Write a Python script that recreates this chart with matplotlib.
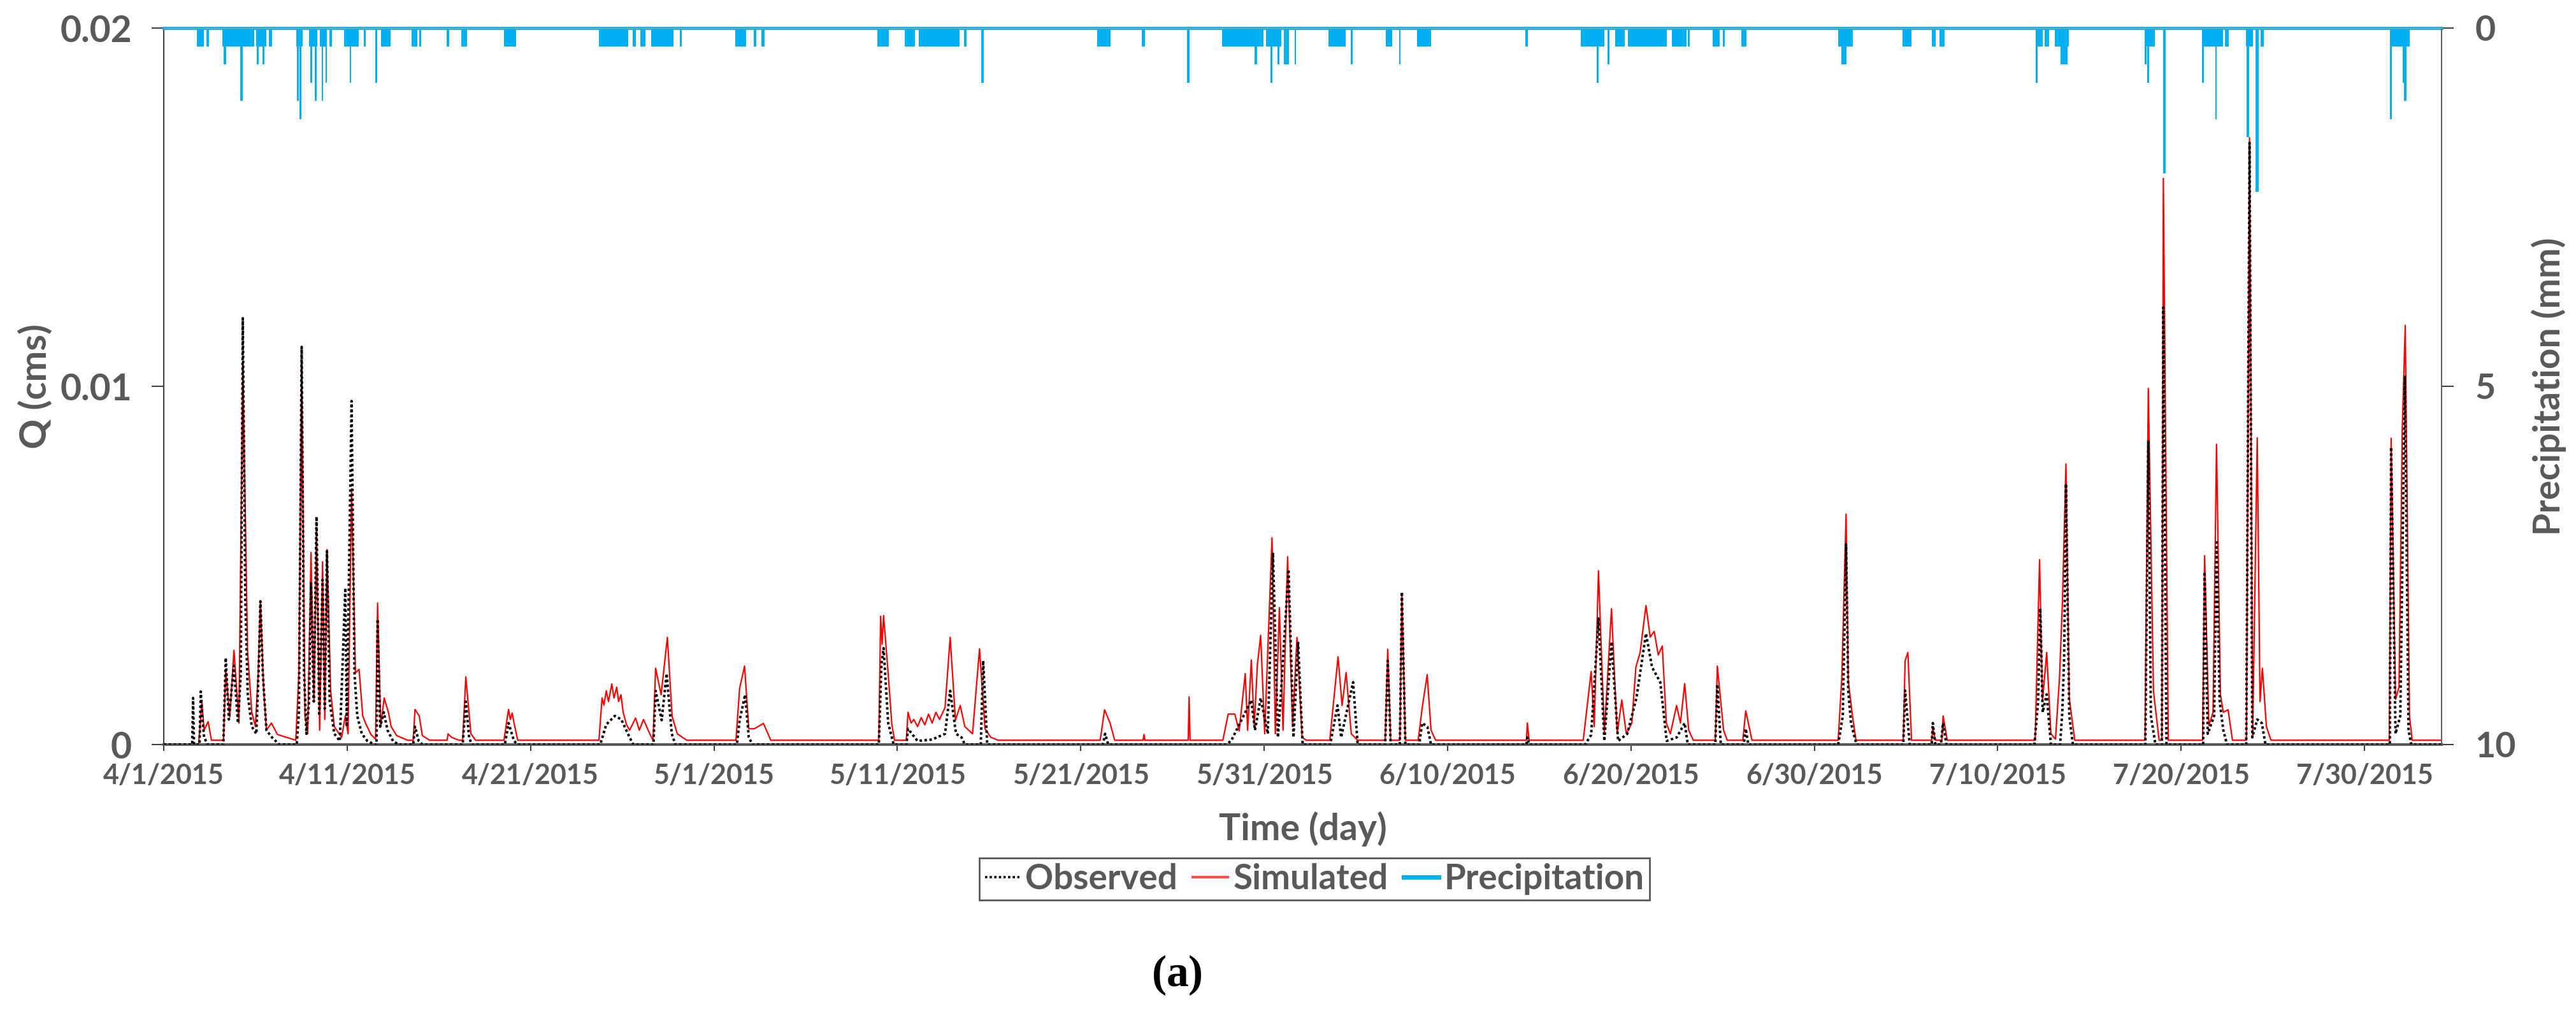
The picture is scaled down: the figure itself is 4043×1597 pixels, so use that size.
import numpy as np
import pandas as pd
import matplotlib
matplotlib.use("Agg")
import matplotlib.pyplot as plt
from matplotlib.lines import Line2D

# Dates of the x ticks (every 10 days)
tick_labels = ['4/1/2015', '4/11/2015', '4/21/2015', '5/1/2015', '5/11/2015', '5/21/2015',
               '5/31/2015', '6/10/2015', '6/20/2015', '6/30/2015', '7/10/2015', '7/20/2015',
               '7/30/2015']
start = pd.Timestamp('2015-04-01')
end_day = 124.2   # last record, days after 4/1/2015 00:00

# Observed flow (cms), time in days after 4/1/2015
obs_day = [0, 1.55, 1.6, 1.65, 1.95, 2.02, 2.1, 2.2, 2.4,
           3.25, 3.38, 3.55, 3.82, 4.05, 4.2, 4.31, 4.45, 4.58, 4.8, 5.05, 5.2, 5.27, 5.4, 5.6, 5.9, 6.3,
           7.25, 7.37, 7.52, 7.65, 7.78, 7.92, 8.03, 8.18, 8.33, 8.48, 8.66, 8.78, 8.9, 9.05, 9.3, 9.6,
           9.9, 9.98, 10.24, 10.4, 10.55, 10.8, 11.1, 11.5, 11.6, 11.66, 11.8, 12.0, 12.2, 12.5, 12.8,
           13.6, 13.7, 13.9, 14.1, 16.3, 16.47, 16.65, 16.8, 18.6, 18.8, 19.1, 19.3,
           23.8, 24.13, 24.6, 24.95, 25.4, 25.6, 26.7, 26.82, 27.15, 27.42, 27.7, 27.9,
           31.25, 31.4, 31.7, 31.9, 32.1, 38.99, 39.13, 39.25, 39.5, 39.8,
           40.5, 40.58, 41.1, 41.9, 42.6, 42.88, 43.2, 43.5, 43.68, 44.55, 44.68, 44.9,
           51.2, 51.33, 51.5,
           57.9, 58.2, 58.97, 59.3, 59.5, 59.81, 60.2, 60.48, 60.75, 60.9, 61.33, 61.6, 61.85, 62.1,
           63.6, 64.0, 64.2, 64.85, 65.1, 66.6, 66.74, 66.9, 67.4, 67.51, 67.7, 68.45, 68.62, 68.9, 69.1,
           74.3, 74.35, 74.45,
           77.5, 77.83, 78.23, 78.55, 78.94, 79.3, 79.8, 80.3, 80.82, 81.15, 81.6, 81.95, 82.5, 82.93, 83.1,
           84.6, 84.71, 84.9, 86.15, 86.26, 86.4,
           91.3, 91.55, 91.73, 91.85, 92.0, 92.3, 94.85, 94.95, 95.2, 96.4, 96.46, 96.6, 96.9, 97.02, 97.2,
           102.0, 102.2, 102.32, 102.45, 102.67, 102.9, 103.4, 103.52, 103.62, 103.72, 103.9, 104.1,
           108.05, 108.21, 108.35, 108.6, 108.95, 109.03, 109.2,
           111.2, 111.28, 111.45, 111.8, 111.93, 112.1, 112.3, 112.5,
           113.55, 113.73, 113.88, 114.15, 114.4, 114.6,
           121.38, 121.45, 121.69, 121.95, 122.2, 122.4, 122.55, 124.2]
obs_q = [0, 0, 0.0013, 0, 0, 0.00148, 0.0008, 0.0002, 0,
         0, 0.00242, 0.0007, 0.0022, 0.0006, 0.002, 0.0119, 0.004, 0.0014, 0.0005, 0.0003, 0.0025, 0.0040, 0.002, 0.0004, 0.0002, 0,
         0, 0.0009, 0.0111, 0.002, 0.0003, 0.0012, 0.0045, 0.0012, 0.00636, 0.0008, 0.0046, 0.001, 0.0054, 0.0012, 0.0003, 0.0001,
         0.00437, 0.0005, 0.00959, 0.002, 0.0008, 0.0003, 0.0001, 0, 0, 0.0035, 0.0005, 0.0009, 0.0004, 0.0001, 0,
         0, 0.0005, 0.0001, 0, 0, 0.0012, 0.0002, 0, 0, 0.0006, 0.0001, 0,
         0, 0.00056, 0.0008, 0.0007, 0.0002, 0, 0, 0.0015, 0.00068, 0.00198, 0.0003, 0,
         0, 0.00068, 0.00139, 0.0002, 0, 0, 0.00222, 0.00269, 0.0006, 0,
         0, 0.00044, 0.0001, 0.00014, 0.0003, 0.0015, 0.0003, 0.0002, 0, 0, 0.00234, 0,
         0, 0.0003, 0,
         0, 0.0001, 0.0009, 0.00124, 0.0004, 0.0013, 0.0003, 0.00536, 0.0002, 0.0013, 0.00489, 0.0002, 0.00287, 0,
         0, 0.00109, 0.0002, 0.00174, 0, 0, 0.00234, 0, 0, 0.00426, 0, 0, 0.0006, 0.0005, 0,
         0, 0.0002, 0,
         0, 0.00027, 0.00352, 0.0001, 0.00287, 0.0001, 0.0003, 0.0013, 0.0031, 0.00216, 0.00174, 0.0001, 0.0002, 0.0006, 0,
         0, 0.00168, 0, 0, 0.00044, 0,
         0, 0.0008, 0.00559, 0.0015, 0.0006, 0, 0, 0.00151, 0, 0, 0.0006, 0, 0, 0.0006, 0,
         0, 0.0012, 0.0038, 0.0009, 0.0014, 0, 0, 0.0009, 0.0024, 0.00728, 0.0008, 0,
         0, 0.00849, 0.0008, 0, 0, 0.0122, 0,
         0, 0.00482, 0.0003, 0.0008, 0.00571, 0.0012, 0.0004, 0,
         0, 0.0168, 0.0002, 0.0007, 0.0006, 0,
         0, 0.0083, 0.0003, 0.0008, 0.0103, 0.0004, 0, 0]

# Simulated flow (cms)
sim_day = [0, 1.9, 2.08, 2.2, 2.42, 2.6,
           3.26, 3.38, 3.6, 3.83, 4.1, 4.31, 4.57, 4.8, 5.0, 5.15, 5.27, 5.45, 5.6, 5.87, 6.2,
           7.2, 7.37, 7.52, 7.7, 7.85, 8.03, 8.19, 8.33, 8.5, 8.66, 8.78, 8.9, 9.1, 9.3, 9.7,
           9.9, 10.05, 10.24, 10.45, 10.65, 10.85, 11.0, 11.3, 11.55, 11.66, 11.83, 12.02, 12.25, 12.4, 12.7, 13.3,
           13.6, 13.7, 13.93, 14.1, 14.5, 15.45, 15.5, 15.7, 16.1, 16.3, 16.47, 16.75, 17.0,
           18.55, 18.8, 18.9, 19.0, 19.1, 19.3,
           23.73, 23.9, 24.0, 24.13, 24.25, 24.43, 24.55, 24.7, 24.8, 24.93, 25.05, 25.23, 25.4, 25.73, 25.93, 26.16, 26.5,
           26.68, 26.82, 27.12, 27.46, 27.72, 28.0, 28.52,
           31.2, 31.4, 31.67, 31.9, 32.2, 32.7, 33.1,
           38.99, 39.09, 39.17, 39.25, 39.5, 39.7, 39.85,
           40.49, 40.58, 40.75, 40.9, 41.1, 41.3, 41.5, 41.7, 41.9, 42.1, 42.3, 42.6, 42.88, 43.17, 43.43,
           43.68, 44.1, 44.48, 44.78, 45.1, 45.5,
           51.06, 51.3, 51.6, 51.85, 53.4, 53.45, 53.5, 55.86, 55.91, 55.96,
           57.75, 58.04, 58.4, 58.64, 58.97, 59.1, 59.3, 59.46, 59.63, 59.81, 60.03, 60.43, 60.61,
           60.83, 61.03, 61.28, 61.55, 61.79, 62.07, 62.3,
           63.58, 64.03, 64.25, 64.47, 64.75, 65.1, 66.6, 66.74, 66.9, 67.4, 67.51, 67.7,
           68.4, 68.62, 68.89, 69.1, 69.35, 74.3, 74.35, 74.45,
           77.4, 77.83, 78.0, 78.23, 78.55, 78.94, 79.25, 79.5, 79.75, 80.05, 80.27, 80.5, 80.82, 81.05,
           81.27, 81.49, 81.71, 81.93, 82.15, 82.49, 82.7, 82.93, 83.15, 83.4,
           84.6, 84.71, 85.05, 85.25, 86.1, 86.26, 86.6,
           91.3, 91.5, 91.73, 91.85, 92.08, 92.27, 94.85, 94.95, 95.1, 95.3,
           96.4, 96.46, 96.6, 96.95, 97.02, 97.25,
           102.04, 102.2, 102.28, 102.44, 102.67, 102.9, 103.15, 103.37, 103.53, 103.72, 103.9, 104.2,
           108.03, 108.21, 108.49, 108.8, 108.95, 109.03, 109.3,
           111.17, 111.28, 111.51, 111.74, 111.93, 112.14, 112.3, 112.56, 112.8,
           113.56, 113.73, 113.9, 114.15, 114.3, 114.43, 114.65, 114.9,
           121.35, 121.45, 121.69, 121.88, 122.06, 122.22, 122.45, 122.6, 124.2]
sim_q = [0, 0, 0.00118, 0.0004, 0.00064, 0.00012,
         0.00012, 0.00209, 0.00077, 0.00263, 0.0006, 0.01066, 0.0026, 0.0009, 0.0005, 0.002, 0.0040, 0.0015, 0.0004, 0.0006, 0.00028,
         0.00012, 0.002, 0.0107, 0.0008, 0.0003, 0.00536, 0.0012, 0.0060, 0.0004, 0.0051, 0.0007, 0.00544, 0.0015, 0.0005, 0.0002,
         0.0008, 0.0003, 0.00714, 0.002, 0.0021, 0.0008, 0.0006, 0.00028, 0.00015, 0.00395, 0.0005, 0.0013, 0.0009, 0.0005, 0.00025, 0.00012,
         0.00012, 0.00098, 0.0008, 0.00025, 0.00012, 0.00012, 0.0003, 0.0002, 0.00012, 0.00012, 0.00189, 0.0003, 0.00012,
         0.00012, 0.00098, 0.0007, 0.00088, 0.0006, 0.00012,
         0.00012, 0.0013, 0.0011, 0.0015, 0.0012, 0.00169, 0.0013, 0.0016, 0.0012, 0.00139, 0.0009, 0.00056, 0.0004, 0.00074, 0.0004, 0.0007, 0.0003,
         0.00012, 0.00213, 0.00139, 0.00299, 0.00079, 0.0003, 0.00012,
         0.00012, 0.00157, 0.00219, 0.00044, 0.00044, 0.00059, 0.00012,
         0.00012, 0.00358, 0.0028, 0.0036, 0.00198, 0.00056, 0.00012,
         0.00012, 0.0009, 0.0006, 0.0007, 0.0005, 0.00075, 0.00055, 0.00085, 0.0006, 0.0009, 0.0007, 0.00103, 0.00299, 0.00068, 0.00109,
         0.0005, 0.0003, 0.00267, 0.00044, 0.0002, 0.00012,
         0.00012, 0.00097, 0.0006, 0.00012, 0.00012, 0.00028, 0.00012, 0.00012, 0.00133, 0.00012,
         0.00012, 0.00085, 0.00085, 0.00038, 0.00198, 0.0004, 0.00236, 0.0005, 0.00221, 0.00305, 0.0003, 0.00577, 0.0003,
         0.00382, 0.0004, 0.00524, 0.0005, 0.00299, 0.0002, 0.00012,
         0.00012, 0.00245, 0.00109, 0.00201, 0.0003, 0.00012, 0.00012, 0.00266, 0.00012, 0.00012, 0.0042, 0.00012,
         0.00012, 0.00103, 0.00195, 0.0004, 0.00012, 0.00012, 0.0006, 0.00012,
         0.00012, 0.00204, 0.0005, 0.00485, 0.0003, 0.00379, 0.0003, 0.00124, 0.0003, 0.0006, 0.00216, 0.00257, 0.00388, 0.003,
         0.00316, 0.0025, 0.00275, 0.0006, 0.0003, 0.00109, 0.0006, 0.0017, 0.0004, 0.00012,
         0.00012, 0.00219, 0.0004, 0.00012, 0.00012, 0.00094, 0.00012,
         0.00012, 0.00188, 0.00643, 0.00177, 0.0008, 0.00012, 0.00012, 0.00234, 0.00257, 0.00012,
         0.00012, 0.00047, 0.00012, 0.00012, 0.0008, 0.00012,
         0.00012, 0.00349, 0.00516, 0.00121, 0.00257, 0.0003, 0.00015, 0.00188, 0.00401, 0.00783, 0.0013, 0.00012,
         0.00012, 0.00994, 0.0015, 0.00012, 0.00012, 0.0158, 0.00012,
         0.00012, 0.00527, 0.00053, 0.0009, 0.00838, 0.0014, 0.0009, 0.00097, 0.00012,
         0.00012, 0.01694, 0.00025, 0.00856, 0.0012, 0.00213, 0.0005, 0.00012,
         0.00012, 0.00855, 0.00126, 0.0016, 0.00883, 0.0117, 0.0008, 0.00012, 0.00012]

# Hourly precipitation, grouped in spells of constant depth (mm)
rain_start = [1.81, 2.34, 3.19, 3.28, 4.12, 4.18, 5.05, 5.06, 5.40, 5.72,
              7.23, 7.27, 7.40, 7.92, 7.99, 8.25, 8.50, 8.60, 8.81, 9.02,
              9.84, 10.14, 10.90, 11.54, 11.83, 13.50, 13.94, 15.42, 16.22, 18.56,
              23.72, 25.58, 26.00, 26.59, 28.13, 31.16, 32.17, 32.57, 38.90, 40.42,
              41.16, 43.64, 44.56, 50.90, 53.34, 55.79, 57.72, 59.48, 60.10, 60.35,
              60.73, 61.07, 61.65, 63.51, 64.73, 66.63, 67.35, 68.33, 74.23, 77.26,
              78.15, 78.73, 79.13, 79.85, 82.24, 83.11, 84.46, 85.01, 86.03, 91.30,
              91.46, 94.82, 96.40, 96.81, 102.08, 102.08, 102.54, 103.10, 103.43, 108.02,
              108.02, 108.15, 109.02, 111.13, 111.15, 111.85, 112.40, 113.55, 113.58, 114.06,
              114.32, 121.37, 121.38, 122.08, 122.16]
rain_end = [2.18, 2.45, 4.12, 3.40, 4.92, 4.32, 5.58, 5.16, 5.50, 5.90,
            7.58, 7.37, 7.50, 8.38, 8.09, 8.34, 8.90, 8.69, 8.90, 9.17,
            10.64, 10.23, 11.03, 11.64, 12.36, 13.83, 14.02, 15.55, 16.54, 19.20,
            25.31, 25.74, 26.27, 27.78, 28.24, 31.77, 32.30, 32.76, 39.54, 40.95,
            43.40, 43.78, 44.70, 51.62, 53.49, 55.94, 59.97, 59.60, 60.92, 60.45,
            60.83, 61.35, 61.75, 64.44, 64.83, 66.97, 67.45, 69.10, 74.38, 78.55,
            78.25, 78.83, 79.65, 81.95, 83.02, 83.21, 84.83, 85.13, 86.28, 92.09,
            91.76, 95.28, 96.60, 97.11, 102.46, 102.18, 102.80, 103.87, 103.79, 108.58,
            108.12, 108.25, 109.14, 112.28, 111.25, 111.95, 112.58, 113.93, 113.70, 114.24,
            114.50, 122.47, 121.50, 122.18, 122.28]
rain_mm = [0.254, 0.254, 0.254, 0.508, 0.254, 1.016, 0.254, 0.508, 0.508, 0.254,
           0.254, 1.016, 1.27, 0.254, 0.762, 1.016, 0.254, 1.016, 0.762, 0.254,
           0.254, 0.762, 0.254, 0.762, 0.254, 0.254, 0.254, 0.254, 0.254, 0.254,
           0.254, 0.254, 0.254, 0.254, 0.254, 0.254, 0.254, 0.254, 0.254, 0.254,
           0.254, 0.254, 0.762, 0.254, 0.254, 0.762, 0.254, 0.508, 0.254, 0.762,
           0.508, 0.508, 0.508, 0.254, 0.508, 0.254, 0.508, 0.254, 0.254, 0.254,
           0.762, 0.508, 0.254, 0.254, 0.254, 0.254, 0.254, 0.254, 0.254, 0.254,
           0.508, 0.254, 0.254, 0.254, 0.254, 0.762, 0.254, 0.254, 0.508, 0.254,
           0.508, 0.762, 2.032, 0.254, 0.762, 1.27, 0.254, 0.254, 1.524, 2.286,
           0.254, 0.254, 1.27, 0.762, 1.016]

grey = '#595959'
blue = '#00B0F0'
W, H = 4043, 1597

plt.rcParams['font.family'] = ['Lato', 'DejaVu Sans']
plt.rcParams['font.weight'] = 'bold'
plt.rcParams['mathtext.fontset'] = 'custom'
plt.rcParams['mathtext.rm'] = 'Liberation Serif'
plt.rcParams['mathtext.bf'] = 'Liberation Serif:bold'

fig = plt.figure(figsize=(W / 100, H / 100), dpi=100)
ax = fig.add_axes([257 / W, 1 - 1168 / H, (3832 - 257) / W, 1124 / H])
ax2 = ax.twinx()

# flow
ax.plot(obs_day, obs_q, color='black', lw=2.8, linestyle=(0, (1, 1)), label='Observed', zorder=3)
ax.plot(sim_day, sim_q, color='#FF0000', lw=1.6, label='Simulated', zorder=2)

ax.set_xlim(0, end_day)
ax.set_ylim(0, 0.02)
ax.set_yticks([0, 0.01, 0.02])
ax.set_yticklabels(['0', '0.01', '0.02'])
tick_pos = (pd.to_datetime(tick_labels, format='%m/%d/%Y') - start).days
ax.set_xticks(tick_pos)
ax.set_xticklabels(tick_labels)

# precipitation hanging from the top
widths = np.array(rain_end) - np.array(rain_start)
ax2.bar(rain_start, rain_mm, width=widths, align='edge', color=blue, linewidth=0)
ax2.axhline(0, color=blue, lw=3.5, clip_on=False, label='Precipitation')
ax2.set_ylim(10, 0)
ax2.set_yticks([0, 5, 10])
ax2.set_yticklabels(['0', '5', '10'])

# spines and ticks
ax.spines['top'].set_visible(False)
ax.spines['right'].set_visible(False)
ax.spines['left'].set_color('#404040')
ax.spines['left'].set_linewidth(1.5)
ax.spines['bottom'].set_color('#595959')
ax.spines['bottom'].set_linewidth(3)
ax2.spines['left'].set_visible(False)
ax2.spines['bottom'].set_visible(False)
ax2.spines['top'].set_color('#A0A0A0')
ax2.spines['top'].set_linewidth(1)
ax2.spines['right'].set_color('#606060')
ax2.spines['right'].set_linewidth(1.5)

ax.tick_params(axis='y', direction='out', length=14, width=1.5, pad=22,
               labelsize=41, labelcolor=grey, color='#404040')
ax.tick_params(axis='x', direction='out', length=7, width=1.5, pad=14,
               labelsize=31, labelcolor=grey, color='#404040')
ax2.tick_params(axis='y', direction='out', length=14, width=1.5, pad=24,
                labelsize=40, labelcolor=grey, color='#404040')

ax.set_xlabel('Time (day)', fontsize=41, fontweight='bold', color=grey, va='center')
ax.xaxis.set_label_coords(0.5, -0.1174)
ax.set_ylabel('Q (cms)', fontsize=42, fontweight='bold', color=grey, va='center')
ax.yaxis.set_label_coords(-0.0562, 0.5)
ax2.set_ylabel('Precipitation (mm)', fontsize=41, fontweight='bold', color=grey, va='center', rotation=90)
ax2.yaxis.set_label_coords(1.047, 0.5)

handles = [Line2D([], [], color='black', lw=2.6, linestyle=(0, (1, 1))),
           Line2D([], [], color='#FF5050', lw=3),
           Line2D([], [], color=blue, lw=5)]
leg = fig.legend(handles, ['Observed', 'Simulated', 'Precipitation'], loc='center',
                 bbox_to_anchor=(2063 / W, 1 - 1379 / H), ncol=3, fontsize=39.5,
                 frameon=True, fancybox=False, edgecolor='#303030', borderpad=0.15,
                 handlelength=1.0, handletextpad=0.15, columnspacing=0.45, borderaxespad=0)
leg.get_frame().set_linewidth(2)
for t in leg.get_texts():
    t.set_color(grey)

fig.text(1847 / W, 1 - 1530 / H, r'$\mathrm{(}\mathbf{a}\mathrm{)}$', fontsize=50,
         ha='center', va='center', color='black')

fig.savefig('out.png', dpi=100)
